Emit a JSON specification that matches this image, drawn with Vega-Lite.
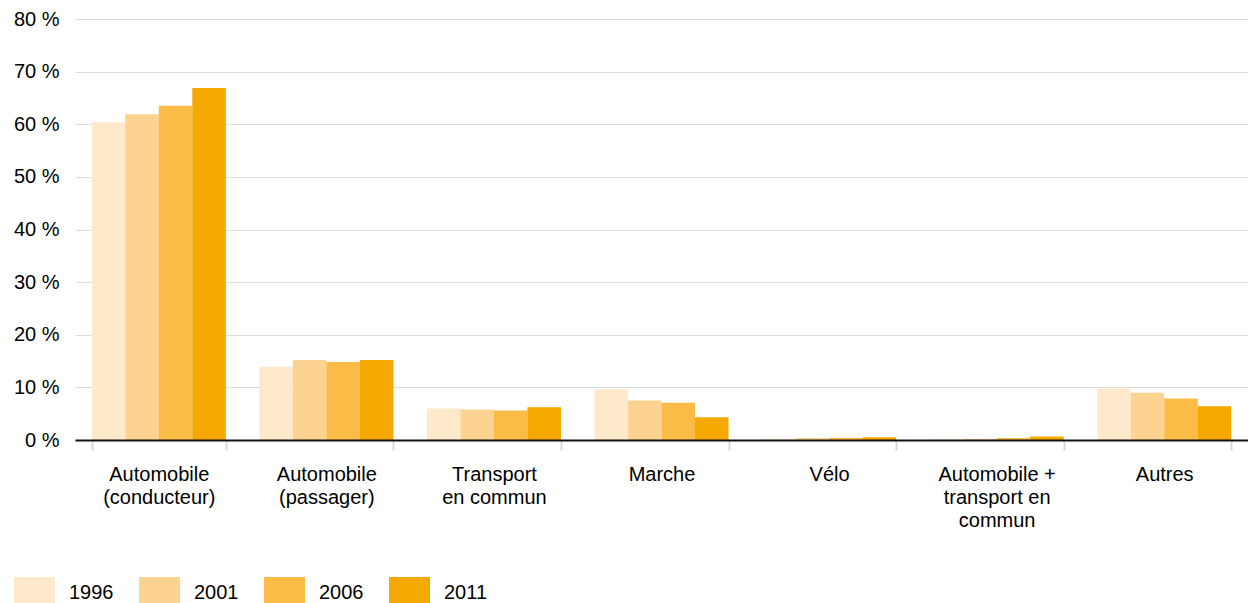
{
  "$schema": "https://vega.github.io/schema/vega-lite/v6.json",
  "width": 1173,
  "height": 421,
  "autosize": {"type": "none"},
  "padding": {"left": 75, "top": 19, "right": 0, "bottom": 163},
  "background": "white",
  "config": {
    "view": {"stroke": null},
    "font": "Liberation Sans",
    "axis": {"labelFont": "Liberation Sans", "labelColor": "#000000"},
    "legend": {"labelFont": "Liberation Sans"}
  },
  "data": {
    "values": [
      {"mode": "Automobile\n(conducteur)", "year": "1996", "value": 60.4},
      {"mode": "Automobile\n(conducteur)", "year": "2001", "value": 61.9},
      {"mode": "Automobile\n(conducteur)", "year": "2006", "value": 63.5},
      {"mode": "Automobile\n(conducteur)", "year": "2011", "value": 66.9},
      {"mode": "Automobile\n(passager)", "year": "1996", "value": 13.9},
      {"mode": "Automobile\n(passager)", "year": "2001", "value": 15.2},
      {"mode": "Automobile\n(passager)", "year": "2006", "value": 14.8},
      {"mode": "Automobile\n(passager)", "year": "2011", "value": 15.2},
      {"mode": "Transport\nen commun", "year": "1996", "value": 6.0},
      {"mode": "Transport\nen commun", "year": "2001", "value": 5.8},
      {"mode": "Transport\nen commun", "year": "2006", "value": 5.6},
      {"mode": "Transport\nen commun", "year": "2011", "value": 6.2},
      {"mode": "Marche", "year": "1996", "value": 9.6},
      {"mode": "Marche", "year": "2001", "value": 7.5},
      {"mode": "Marche", "year": "2006", "value": 7.1},
      {"mode": "Marche", "year": "2011", "value": 4.3},
      {"mode": "Vélo", "year": "1996", "value": 0.2},
      {"mode": "Vélo", "year": "2001", "value": 0.4},
      {"mode": "Vélo", "year": "2006", "value": 0.45},
      {"mode": "Vélo", "year": "2011", "value": 0.5},
      {"mode": "Automobile +\ntransport en\ncommun", "year": "1996", "value": 0.1},
      {"mode": "Automobile +\ntransport en\ncommun", "year": "2001", "value": 0.2},
      {"mode": "Automobile +\ntransport en\ncommun", "year": "2006", "value": 0.4},
      {"mode": "Automobile +\ntransport en\ncommun", "year": "2011", "value": 0.65},
      {"mode": "Autres", "year": "1996", "value": 9.8},
      {"mode": "Autres", "year": "2001", "value": 9.0},
      {"mode": "Autres", "year": "2006", "value": 7.9},
      {"mode": "Autres", "year": "2011", "value": 6.4}
    ]
  },
  "mark": {"type": "bar"},
  "encoding": {
    "x": {
      "field": "mode",
      "type": "nominal",
      "sort": null,
      "title": null,
      "scale": {"paddingInner": 0.2, "paddingOuter": 0.1},
      "axis": {
        "zindex": 1,
        "labelAngle": 0,
        "labelExpr": "split(datum.label, '\\n')",
        "labelFontSize": 20,
        "labelLineHeight": 23,
        "labelBaseline": "top",
        "labelPadding": 14,
        "tickBand": "extent",
        "tickSize": 10,
        "tickColor": "#d9d9d9",
        "tickWidth": 2,
        "domainColor": "#111111",
        "domainWidth": 2,
        "grid": false
      }
    },
    "xOffset": {"field": "year", "type": "nominal", "scale": {"paddingInner": 0, "paddingOuter": 0}},
    "y": {
      "field": "value",
      "type": "quantitative",
      "title": null,
      "scale": {"domain": [0, 80], "nice": false},
      "axis": {
        "values": [0, 10, 20, 30, 40, 50, 60, 70, 80],
        "labelExpr": "datum.value + ' %'",
        "labelFontSize": 20,
        "labelPadding": 16,
        "ticks": false,
        "domain": false,
        "grid": true,
        "gridColor": "#dddddd",
        "gridWidth": 1
      }
    },
    "color": {
      "field": "year",
      "type": "nominal",
      "title": null,
      "scale": {
        "domain": ["1996", "2001", "2006", "2011"],
        "range": ["#feeacb", "#fdd391", "#fbbb47", "#f5a800"]
      },
      "legend": {
        "orient": "none",
        "direction": "horizontal",
        "legendX": -61,
        "legendY": 553,
        "padding": 0,
        "symbolType": "M-1,-0.756H1V0.756H-1Z",
        "symbolSize": 1681,
        "symbolStrokeWidth": 0,
        "symbolOpacity": 1,
        "labelFontSize": 20,
        "labelColor": "#000000",
        "labelOffset": 14,
        "columnPadding": 25
      }
    }
  }
}
